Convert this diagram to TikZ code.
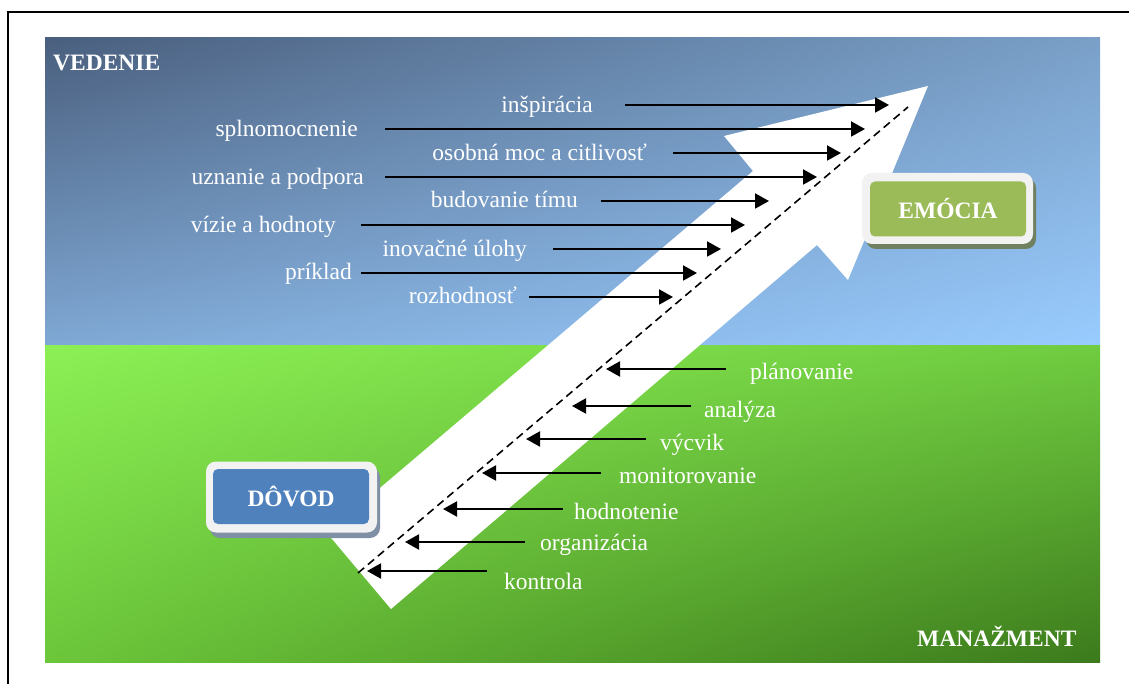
\documentclass[tikz,border=0pt]{standalone}
\usepackage{fontspec}
\setmainfont{Liberation Serif}
\usetikzlibrary{arrows.meta,shadings}
\definecolor{tUL}{HTML}{4A5F7E}
\definecolor{tUR}{HTML}{7AA0C8}
\definecolor{tLL}{HTML}{7FA8D4}
\definecolor{tLR}{HTML}{99CCFF}
\definecolor{gUL}{HTML}{8CF055}
\definecolor{gUR}{HTML}{70CC40}
\definecolor{gLL}{HTML}{6CC63A}
\definecolor{gLR}{HTML}{3C7A1C}
\definecolor{boxframe}{HTML}{F2F2F2}
\definecolor{emogreen}{HTML}{9BBB59}
\definecolor{dovblue}{HTML}{4F81BD}
\definecolor{shgreen}{HTML}{6F8060}
\definecolor{shblue}{HTML}{7F8FA6}
\begin{document}
\begin{tikzpicture}[x=1pt,y=-1pt,
  lbl/.style={text=white,inner sep=0pt,font=\fontsize{23.5}{28}\selectfont},
  ttl/.style={text=white,inner sep=0pt,font=\fontsize{23.5}{28}\selectfont\bfseries},
  arr/.style={-{Triangle[length=14pt,width=15pt]},line width=2pt,black},
  frame/.style={fill=boxframe,rounded corners=10pt,inner sep=0pt,minimum width=171pt,minimum height=71pt},
  boxtext/.style={text=white,rounded corners=5pt,inner sep=0pt,minimum width=156pt,minimum height=55pt,font=\fontsize{23.5}{28}\selectfont\bfseries}]
\useasboundingbox (0,0) rectangle (1129,684);
\fill[white] (0,0) rectangle (1129,684);
\draw[line width=2.5pt] (8,684) -- (8,12) -- (1129,12);
% panels
\shade[upper left=tUL,upper right=tUR,lower left=tLL,lower right=tLR] (45,38) rectangle (1100,345);
\shade[upper left=gUL,upper right=gUR,lower left=gLL,lower right=gLR] (45,345) rectangle (1100,662);
\node[ttl,anchor=base west] (ved) at (53,71) {VEDENIE};
\node[ttl,anchor=base west] (man) at (917,646) {MANAŽMENT};
% big arrow
\fill[white] (928,86) -- (724,136) -- (753,171) -- (327,533) -- (391,609) -- (817,245) -- (848,280) -- cycle;
\coordinate (d1) at (358,573);
\coordinate (d2) at (908,107);
\draw[line width=1.6pt,dash pattern=on 8pt off 5pt] (d1) -- (d2);
% upper labels and arrows
\foreach \n/\t/\rx/\by/\sx/\ay/\ex in {
  1/inšpirácia/593/112.7/625/105/889,
  2/splnomocnenie/358/136.7/385/129/865,
  3/osobná moc a citlivosť/647/160.7/673/153/841,
  4/uznanie a podpora/364/185/385/177/817,
  5/budovanie tímu/578/208/601/201/769,
  6/vízie a hodnoty/336/232.7/361/225/745,
  7/inovačné úlohy/527/257/553/249/721,
  8/príklad/352/280/361/273/697,
  9/rozhodnosť/517/304/529/297/673}{
  \node[lbl,anchor=base east] (u\n) at (\rx,\by) {\t};
  \coordinate (us\n) at (\sx,\ay);
  \coordinate (ue\n) at (\ex,\ay);
  \draw[arr] (us\n) -- (ue\n);
}
% lower labels and arrows
\foreach \n/\t/\lx/\by/\sx/\ay/\ex in {
  1/plánovanie/750/379/726/369/606,
  2/analýza/704/417/691/406/572,
  3/výcvik/660/450/646/439/526,
  4/monitorovanie/619/483/601/473/482,
  5/hodnotenie/574/519/563/509/443,
  6/organizácia/540/550/525/542/405,
  7/kontrola/504/589/487/571/367}{
  \node[lbl,anchor=base west] (l\n) at (\lx,\by) {\t};
  \coordinate (ls\n) at (\sx,\ay);
  \coordinate (le\n) at (\ex,\ay);
  \draw[arr] (ls\n) -- (le\n);
}
% EMOCIA box
\fill[shgreen,rounded corners=10pt] (866,178) rectangle (1036,249);
\node[frame] (emof) at (947.5,208.5) {};
\node[boxtext,fill=emogreen] (emo) at (948,209) {EMÓCIA};
% DOVOD box
\fill[shblue,rounded corners=10pt] (210,467) rectangle (380,538);
\node[frame] (dovf) at (291.5,497) {};
\node[boxtext,fill=dovblue] (dov) at (291,496.5) {DÔVOD};
\end{tikzpicture}
\end{document}
